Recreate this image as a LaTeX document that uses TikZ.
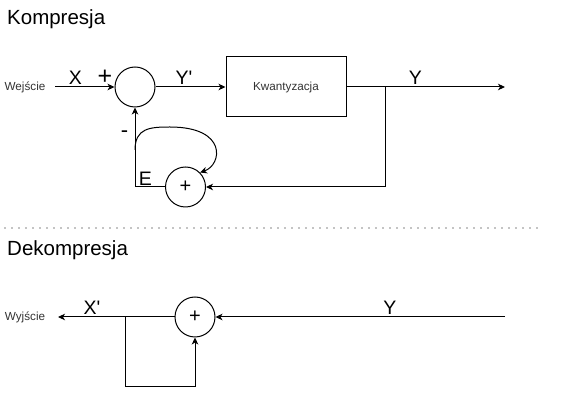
\documentclass[tikz,border=0pt]{standalone}
\usepackage{fontspec}
\setmainfont{Liberation Sans}
\usetikzlibrary{arrows.meta}
\definecolor{smallgrey}{HTML}{333333}
\tikzset{
  arr/.style={line width=1pt,-{Stealth[length=7pt,width=6.5pt,inset=2pt]}},
  title/.style={inner sep=0pt,anchor=base west,font=\fontsize{20.5}{24}\selectfont},
  lbl/.style={inner sep=0pt,anchor=base,font=\fontsize{19.5}{23}\selectfont},
  small/.style={inner sep=0pt,anchor=base,text=smallgrey,font=\fontsize{11.7}{14}\selectfont},
  sumnode/.style={circle,draw,line width=1pt,minimum size=40pt,inner sep=0pt,font=\fontsize{20}{22}\selectfont},
  block/.style={draw,line width=1pt,minimum width=120pt,minimum height=60pt,inner sep=0pt,text=smallgrey,font=\fontsize{11.7}{14}\selectfont}
}
\begin{document}
\begin{tikzpicture}[x=1pt,y=-1pt]
\useasboundingbox (0,0) rectangle (563,411);
% titles
\node[title] (t1) at (7,25) {Kompresja};
\node[title] (t2) at (7,256) {Dekompresja};
% top part
\node[small] (wej) at (25,91) {Wejście};
\node[sumnode] (c1) at (135,87) {};
\node[block] (box) at (286,87) {Kwantyzacja};
\node[sumnode] (c2) at (185.5,187) {+};
\coordinate (inW) at (55,87);
\coordinate (out) at (505,87);
\coordinate (br) at (385,87);
\coordinate (cs) at (135,150);
\coordinate (cm) at (170,127);
\draw[arr] (inW) -- (c1.west);
\draw[arr] (c1.east) -- (box.west);
\draw[arr] (box.east) -- (out);
\draw[arr] (br) |- (c2.east);
\draw[arr] (c2.west) -| (c1.south);
\draw[arr] (cs) .. controls (135,128) and (150,127) .. (cm) .. controls (228,127) and (222,165) .. (c2.north east);
\node[lbl] (lX) at (75.5,84.3) {X};
\node[lbl,font=\fontsize{25}{28}\selectfont] (lplus) at (105,85) {+};
\node[lbl] (lYp) at (184,84.3) {Y\textquotesingle};
\node[lbl] (lY) at (415.5,84.3) {Y};
\node[lbl] (lE) at (145.5,185.7) {E};
\node[lbl,font=\fontsize{22}{24}\selectfont] (lminus) at (124.5,137.5) {-};
% separator
\draw[line width=1.3pt,line cap=round,dash pattern=on 0pt off 7pt] (5,228) -- (543,228);
% bottom part
\node[small] (wyj) at (25,321) {Wyjście};
\node[sumnode] (c3) at (195,317) {+};
\coordinate (inY) at (505,317);
\coordinate (outX) at (58,317);
\coordinate (b2) at (125,317);
\draw[arr] (inY) -- (c3.east);
\draw[arr] (c3.west) -- (outX);
\draw[arr] (b2) -- (125,387) -| (c3.south);
\node[lbl] (lXp) at (92,315) {X\textquotesingle};
\node[lbl] (lY2) at (390,314.3) {Y};
\end{tikzpicture}
\end{document}
